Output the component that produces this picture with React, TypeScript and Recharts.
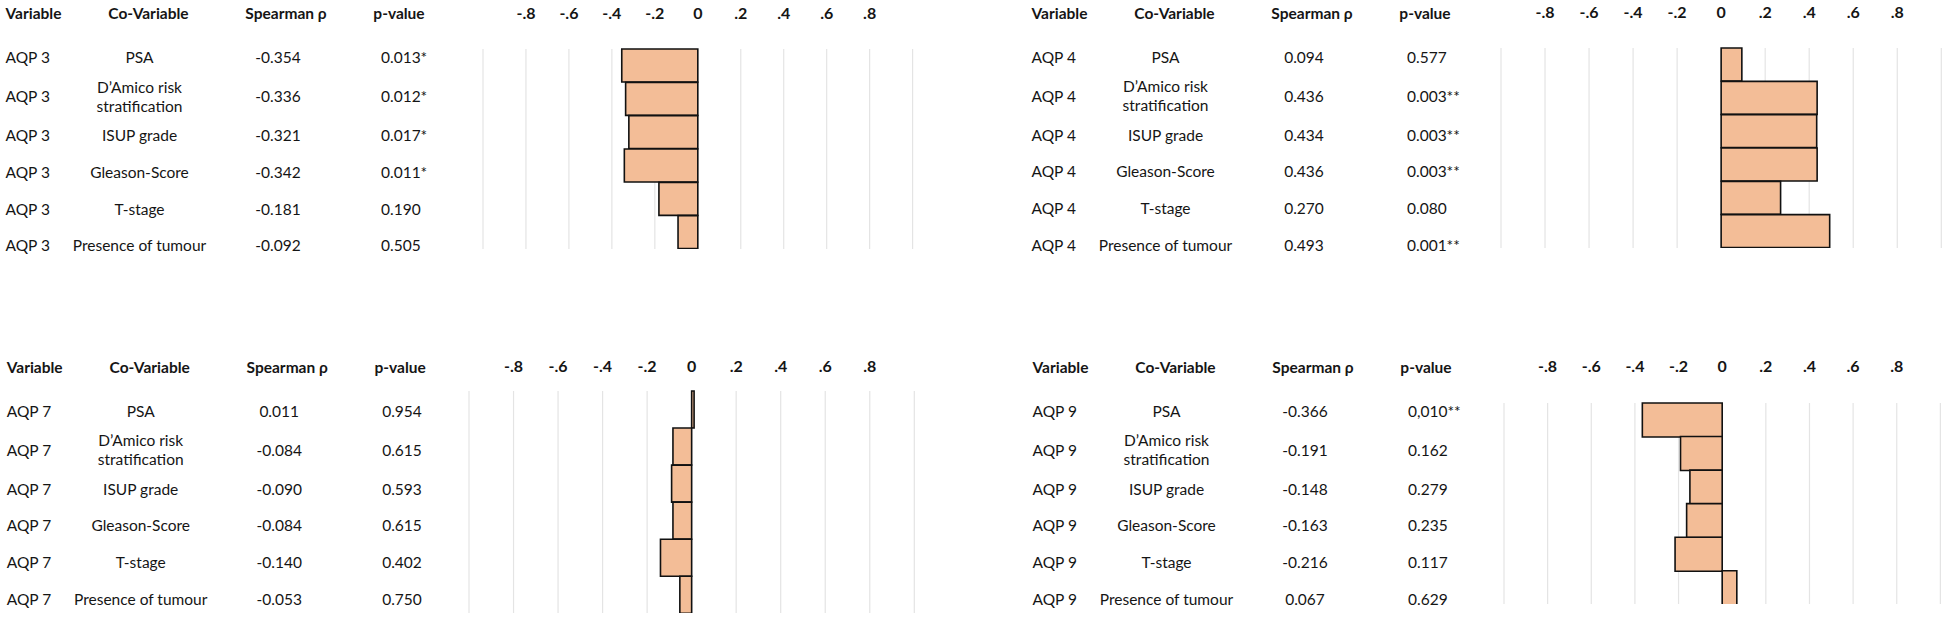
import { BarChart, Bar, XAxis, YAxis, CartesianGrid } from 'recharts';

// rows of every table, top to bottom
const coVariables = ['PSA', 'D’Amico risk stratification', 'ISUP grade', 'Gleason-Score', 'T-stage', 'Presence of tumour'];
const coVariableLines = [['PSA'], ['D’Amico risk', 'stratification'], ['ISUP grade'], ['Gleason-Score'], ['T-stage'], ['Presence of tumour']];
const headers = ['Variable', 'Co-Variable', 'Spearman ρ', 'p-value'];
const axisTicks = [-1, -0.8, -0.6, -0.4, -0.2, 0, 0.2, 0.4, 0.6, 0.8, 1];

const aqp3Rho = [-0.354, -0.336, -0.321, -0.342, -0.181, -0.092];
const aqp3P = ['0.013*', '0.012*', '0.017*', '0.011*', '0.190', '0.505'];

const aqp4Rho = [0.094, 0.436, 0.434, 0.436, 0.27, 0.493];
const aqp4P = ['0.577', '0.003**', '0.003**', '0.003**', '0.080', '0.001**'];

const aqp7Rho = [0.011, -0.084, -0.09, -0.084, -0.14, -0.053];
const aqp7P = ['0.954', '0.615', '0.593', '0.615', '0.402', '0.750'];

const aqp9Rho = [-0.366, -0.191, -0.148, -0.163, -0.216, 0.067];
const aqp9P = ['0,010**', '0.162', '0.279', '0.235', '0.117', '0.629'];

const FONT = "Lato, 'Open Sans', sans-serif";
const INK = '#151515';
const BAR_FILL = '#F3BD97';
const GRID = '#e4e4e4';
const FONT_SIZE = 15.5;
const ROW_OFFSETS = [44, 83, 121.8, 158.3, 195.2, 231.8];

type Panel = {
  variable: string;
  rho: number[];
  p: string[];
  tx: number;
  ty: number;
  x0: number;
  x1: number;
  y0: number;
  y1: number;
  labelGap: number;
};

const panels: Panel[] = [
  { variable: 'AQP 3', rho: aqp3Rho, p: aqp3P, tx: 0, ty: 13.3, x0: 482.7, x1: 912.3, y0: 49, y1: 249, labelGap: 30 },
  { variable: 'AQP 4', rho: aqp4Rho, p: aqp4P, tx: 1026, ty: 12.8, x0: 1500.7, x1: 1941, y0: 48, y1: 248, labelGap: 30 },
  { variable: 'AQP 7', rho: aqp7Rho, p: aqp7P, tx: 1.2, ty: 366.7, x0: 469, x1: 914.3, y0: 390.7, y1: 613, labelGap: 18.5 },
  { variable: 'AQP 9', rho: aqp9Rho, p: aqp9P, tx: 1027, ty: 366.7, x0: 1504.3, x1: 1940.7, y0: 402.7, y1: 604, labelGap: 30.5 },
];

const fmtTick = (v: number) => {
  if (Math.abs(v) >= 1) return '';
  if (v === 0) return '0';
  return (v < 0 ? '-' : '') + '.' + Math.round(Math.abs(v) * 10);
};

const AxisTick = (props: any) => {
  const { x, y, payload } = props;
  return (
    <text x={x} y={y} textAnchor="middle" fontFamily={FONT} fontSize={16} fontWeight={700} fill={INK}>
      {fmtTick(payload.value)}
    </text>
  );
};

function Table({ panel }: { panel: Panel }) {
  const { tx, ty } = panel;
  const cell = { dominantBaseline: 'central' as const, fill: INK, fontFamily: FONT, fontSize: FONT_SIZE };
  return (
    <g>
      <text {...cell} x={tx + 5.5} y={ty} fontWeight={700}>{headers[0]}</text>
      <text {...cell} x={tx + 148.5} y={ty} fontWeight={700} textAnchor="middle">{headers[1]}</text>
      <text {...cell} x={tx + 286} y={ty} fontWeight={700} textAnchor="middle">{headers[2]}</text>
      <text {...cell} x={tx + 399} y={ty} fontWeight={700} textAnchor="middle">{headers[3]}</text>
      {coVariables.map((c, i) => {
        const y = ty + ROW_OFFSETS[i];
        const lines = coVariableLines[i];
        return (
          <g key={c}>
            <text {...cell} x={tx + 5.5} y={y}>{panel.variable}</text>
            {lines.map((ln, j) => (
              <text key={ln} {...cell} x={tx + 139.5} y={y + (j - (lines.length - 1) / 2) * 18.8} textAnchor="middle">
                {ln}
              </text>
            ))}
            <text {...cell} x={tx + 278} y={y} textAnchor="middle">{panel.rho[i].toFixed(3)}</text>
            <text {...cell} x={tx + 381} y={y}>{panel.p[i]}</text>
          </g>
        );
      })}
    </g>
  );
}

const PAD = 20;

function Chart({ panel }: { panel: Panel }) {
  const axisH = 60;
  const data = coVariables.map((c, i) => ({ name: c, rho: panel.rho[i] }));
  const width = panel.x1 - panel.x0 + PAD * 2;
  const height = axisH + (panel.y1 - panel.y0);
  return (
    <div style={{ position: 'absolute', left: panel.x0 - PAD, top: panel.y0 - axisH, width, height }}>
      <BarChart
        width={width}
        height={height}
        data={data}
        layout="vertical"
        barCategoryGap={0}
        margin={{ top: 0, right: PAD, bottom: 0, left: PAD }}
      >
        <CartesianGrid horizontal={false} stroke={GRID} strokeWidth={1.2} />
        <XAxis
          type="number"
          orientation="top"
          domain={[-1, 1]}
          ticks={axisTicks}
          interval={0}
          height={axisH}
          axisLine={false}
          tickLine={false}
          tickSize={0}
          tickMargin={panel.labelGap}
          tick={<AxisTick />}
        />
        <YAxis type="category" dataKey="name" hide />
        <Bar dataKey="rho" fill={BAR_FILL} stroke="#111" strokeWidth={1.6} isAnimationActive={false} />
      </BarChart>
    </div>
  );
}

export default function App() {
  return (
    <div style={{ position: 'absolute', left: 0, top: 0, width: 1946, height: 619, background: '#fff', overflow: 'hidden' }}>
      <svg width={1946} height={619} style={{ position: 'absolute', left: 0, top: 0 }}>
        {panels.map((p) => (
          <Table key={p.variable} panel={p} />
        ))}
      </svg>
      {panels.map((p) => (
        <Chart key={p.variable} panel={p} />
      ))}
    </div>
  );
}
